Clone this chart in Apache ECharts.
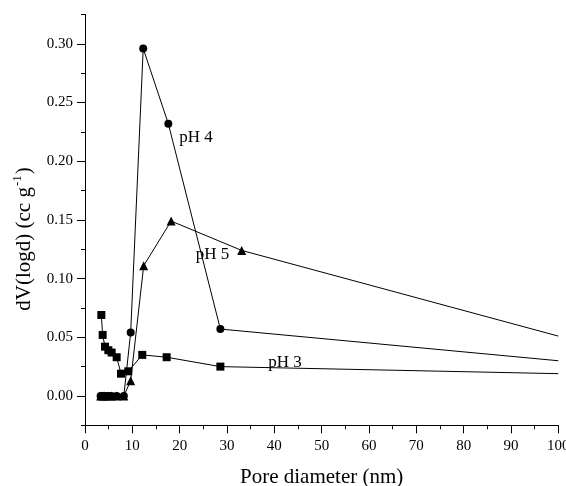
<!DOCTYPE html>
<html>
<head>
<meta charset="utf-8">
<script src="https://cdn.jsdelivr.net/npm/echarts@6/dist/echarts.min.js"></script>
<style>
  html, body { margin: 0; padding: 0; background: #fff; }
  #chart { width: 566px; height: 486px; }
</style>
</head>
<body>
<div id="chart"></div>
<script>
// Pore size distribution, dV(logd) vs pore diameter, three pH levels
const poreX_pH3 = [3.45, 3.73, 4.23, 4.93, 5.63, 6.69, 7.61, 9.15, 12.1, 17.25, 28.6, 100];
const dv_pH3    = [0.069, 0.052, 0.042, 0.039, 0.037, 0.033, 0.019, 0.021, 0.035, 0.033, 0.025, 0.019];

const poreX_pH4 = [3.3, 3.7, 4.2, 4.9, 5.6, 6.7, 8.2, 9.65, 12.3, 17.6, 28.6, 100];
const dv_pH4    = [0, 0, 0, 0, 0, 0, 0, 0.054, 0.296, 0.232, 0.057, 0.030];

const poreX_pH5 = [3.3, 3.7, 4.2, 4.9, 5.6, 6.7, 8.2, 9.65, 12.4, 18.2, 33.1, 100];
const dv_pH5    = [0, 0, 0, 0, 0, 0, 0, 0.013, 0.111, 0.149, 0.124, 0.051];

const xTicks = [0, 10, 20, 30, 40, 50, 60, 70, 80, 90, 100];
const yTicks = [0.00, 0.05, 0.10, 0.15, 0.20, 0.25, 0.30];

// series label text with its anchor in data units [x, y]
const seriesLabels = [
  { text: 'pH 4', at: [19.9, 0.220] },
  { text: 'pH 5', at: [23.4, 0.1205] },
  { text: 'pH 3', at: [38.7, 0.0285] }
];

const FONT = '"Liberation Serif", "Times New Roman", serif';
const INK = '#000';

const W = 566, H = 486;
const gTop = 14.5, gBottom = 60.7, gLeft = 85, gRight = 7.7;
const yMin = -0.025, yMax = 0.325;
const ppu = (H - gTop - gBottom) / (yMax - yMin);
const labTop = gTop + (yMax - yTicks[yTicks.length - 1]) * ppu;
const labBottom = gBottom + (yTicks[0] - yMin) * ppu;

// the curves run on past the frame edge: no marker at the last point
const toData = (xs, ys) => xs.map((x, i) =>
  i === xs.length - 1 ? { value: [x, ys[i]], symbol: 'none' } : [x, ys[i]]);

const chart = echarts.init(document.getElementById('chart'), null, { renderer: 'canvas' });

function mkSeries(name, xs, ys, symbol) {
  return {
    name, type: 'line', xAxisIndex: 0, yAxisIndex: 0,
    data: toData(xs, ys),
    symbol, symbolSize: symbol === 'triangle' ? 9 : 8,
    showAllSymbol: true,
    itemStyle: { color: INK },
    lineStyle: { color: INK, width: 1 },
    emphasis: { disabled: true },
    animation: false
  };
}

const gridBase = { outerBoundsMode: 'none', containLabel: false };

chart.setOption({
  animation: false,
  backgroundColor: '#fff',
  grid: [
    Object.assign({ left: gLeft, right: gRight, top: gTop, bottom: gBottom }, gridBase),
    Object.assign({ left: gLeft, right: gRight, top: labTop, bottom: labBottom }, gridBase)
  ],
  xAxis: [
    {
      gridIndex: 0, type: 'value', min: xTicks[0], max: xTicks[xTicks.length - 1], interval: 10,
      axisLine: { show: true, onZero: false, lineStyle: { color: INK, width: 1 } },
      axisTick: { show: true, inside: false, length: 8, lineStyle: { color: INK } },
      minorTick: { show: true, splitNumber: 2, length: 4, lineStyle: { color: INK } },
      splitLine: { show: false },
      axisLabel: { color: INK, fontFamily: FONT, fontSize: 15, margin: 13,
                   hideOverlap: false, showMaxLabel: true, showMinLabel: true,
                   formatter: v => xTicks.includes(v) ? String(v) : '' },
      name: 'Pore diameter (nm)', nameLocation: 'middle', nameGap: 42,
      nameTextStyle: { color: INK, fontFamily: FONT, fontSize: 21 }
    },
    { gridIndex: 1, type: 'value', min: 0, max: 100, show: false }
  ],
  yAxis: [
    {
      gridIndex: 0, type: 'value', min: yMin, max: yMax, interval: 0.025,
      axisLine: { show: true, onZero: false, lineStyle: { color: INK, width: 1 } },
      axisTick: { show: true, inside: false, length: 4, lineStyle: { color: INK } },
      splitLine: { show: false },
      axisLabel: { show: false }
    },
    {
      gridIndex: 1, type: 'value', min: yTicks[0], max: yTicks[yTicks.length - 1], interval: 0.05,
      axisLine: { show: false },
      axisTick: { show: true, inside: false, length: 8, lineStyle: { color: INK } },
      splitLine: { show: false },
      axisLabel: { color: INK, fontFamily: FONT, fontSize: 15, margin: 12,
                   formatter: v => v.toFixed(2) }
    }
  ],
  series: [
    mkSeries('pH 3', poreX_pH3, dv_pH3, 'rect'),
    mkSeries('pH 4', poreX_pH4, dv_pH4, 'circle'),
    mkSeries('pH 5', poreX_pH5, dv_pH5, 'triangle')
  ]
});

// Series names beside their curves, plus the rotated y-axis title
const graphics = seriesLabels.map(l => {
  const p = chart.convertToPixel({ xAxisIndex: 0, yAxisIndex: 0 }, l.at);
  return {
    type: 'text', x: p[0], y: p[1], silent: true,
    style: { text: l.text, fill: INK, font: '17px ' + FONT, align: 'left', verticalAlign: 'middle' }
  };
});
graphics.push({
  type: 'text', x: 23, y: 239, rotation: Math.PI / 2, silent: true,
  style: {
    text: '{a|dV(logd) (cc g}{s|-1}{a|)}',
    align: 'center', verticalAlign: 'middle', fill: INK,
    rich: {
      a: { fontFamily: FONT, fontSize: 21, lineHeight: 24, fill: INK, verticalAlign: 'bottom' },
      s: { fontFamily: FONT, fontSize: 13, lineHeight: 24, fill: INK, verticalAlign: 'top', padding: [0, 1, 0, 1] }
    }
  }
});
chart.setOption({ graphic: graphics });
</script>
</body>
</html>
